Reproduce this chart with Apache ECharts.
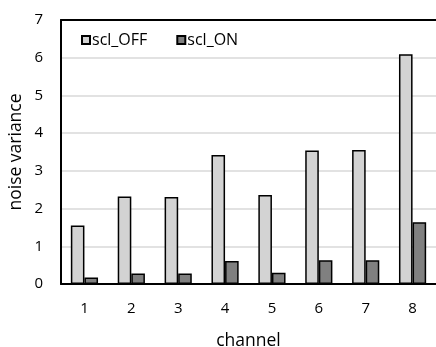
<!DOCTYPE html>
<html><head><meta charset="utf-8">
<script src="https://cdn.jsdelivr.net/npm/echarts@6/dist/echarts.min.js"></script>
<style>html,body{margin:0;padding:0;background:#fff}#c{width:436px;height:347px}</style>
</head><body><div id="c"></div>
<script>
const categories = ['1','2','3','4','5','6','7','8'];
const sclOff = [1.55, 2.32, 2.31, 3.42, 2.36, 3.54, 3.55, 6.09];
const sclOn = [0.17, 0.28, 0.28, 0.61, 0.30, 0.63, 0.63, 1.64];
const FONT = '"Open Sans", sans-serif';
const chart = echarts.init(document.getElementById('c'));
chart.setOption({
  animation: false,
  textStyle: {fontFamily: FONT},
  grid: {left: 61, top: 20, right: 0, bottom: 63, containLabel: false, outerBoundsMode: 'none'},
  legend: {
    left: 81, top: 32, padding: 0, itemWidth: 8, itemHeight: 8, itemGap: 29,
    icon: 'rect',
    textStyle: {fontSize: 16, color: '#000', fontFamily: FONT, padding: [0, 0, 0, -3]},
    data: ['scl_OFF', 'scl_ON']
  },
  xAxis: [{
    type: 'category', data: categories,
    name: 'channel', nameLocation: 'middle', nameGap: 48, nameMoveOverlap: false,
    nameTextStyle: {fontSize: 17.5, color: '#000', fontFamily: FONT},
    axisLine: {lineStyle: {color: '#000', width: 2}},
    axisTick: {show: false},
    axisLabel: {fontSize: 15, color: '#000', margin: 17, fontFamily: FONT}
  }, {
    type: 'category', data: categories, position: 'top',
    axisLine: {show: true, lineStyle: {color: '#000', width: 2}},
    axisTick: {show: false}, axisLabel: {show: false}
  }],
  yAxis: {
    type: 'value', min: 0, max: 7, interval: 1,
    name: 'noise variance', nameLocation: 'middle', nameGap: 36, nameMoveOverlap: false,
    nameTextStyle: {fontSize: 17.5, color: '#000', fontFamily: FONT},
    axisLine: {show: true, lineStyle: {color: '#000', width: 2}},
    axisTick: {show: false},
    axisLabel: {fontSize: 15, color: '#000', margin: 18, fontFamily: FONT},
    splitLine: {lineStyle: {color: '#d9d9d9', width: 1.5}}
  },
  series: [{
    name: 'scl_OFF', type: 'bar', data: sclOff, barGap: '0%', barCategoryGap: '42%',
    itemStyle: {color: '#d3d3d3', borderColor: '#000', borderWidth: 1.5}
  }, {
    name: 'scl_ON', type: 'bar', data: sclOn, barGap: '0%', barCategoryGap: '42%',
    itemStyle: {color: '#808080', borderColor: '#000', borderWidth: 1.5}
  }]
});
</script></body></html>
